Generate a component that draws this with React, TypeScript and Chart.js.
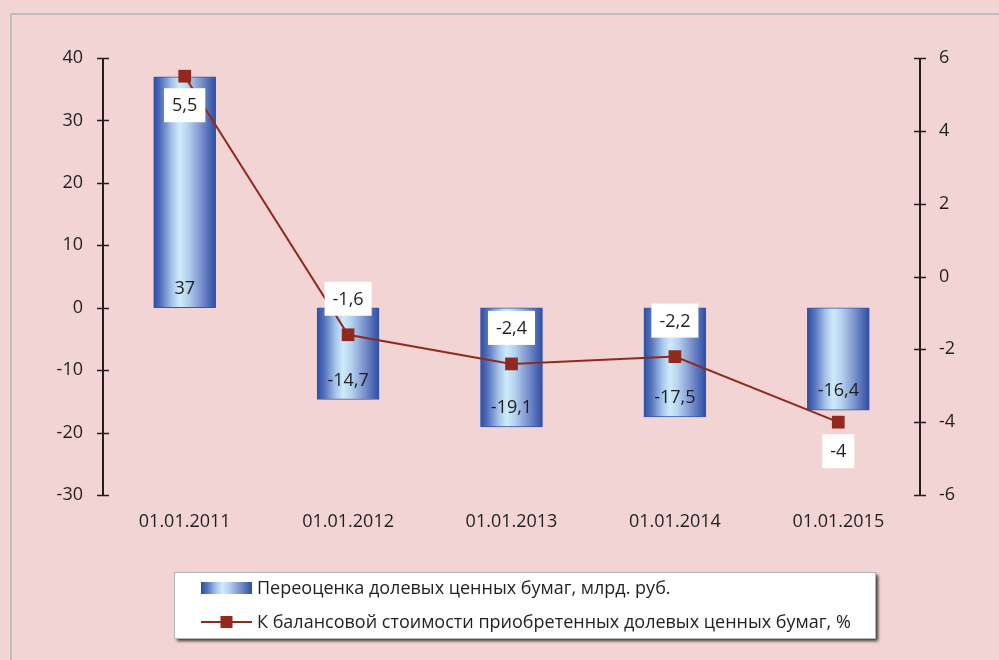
import React, { useEffect, useRef } from 'react';
import { Chart, registerables } from 'chart.js';

Chart.register(...registerables);

const categories = ['01.01.2011', '01.01.2012', '01.01.2013', '01.01.2014', '01.01.2015'];
const revaluation = [37, -14.7, -19.1, -17.5, -16.4];
const sharePct = [5.5, -1.6, -2.4, -2.2, -4];
const pctLabelSide = ['below', 'above', 'above', 'above', 'below'];
const leftAxis = { min: -30, max: 40, step: 10 };
const rightAxis = { min: -6, max: 6, step: 2 };
const seriesNames = [
  'Переоценка долевых ценных бумаг, млрд. руб.',
  'К балансовой стоимости приобретенных долевых ценных бумаг, %',
];

const FONT = '"Open Sans", "Noto Sans", sans-serif';
const TEXT = '#1F1F1F';
const BG = '#F2D4D4';
const LINE = '#8F2A1C';
const BAR_W = 62;

const fmt = (v: number) => String(v).replace('.', ',');

function makeGradient(ctx: CanvasRenderingContext2D, cx: number, half: number) {
  const g = ctx.createLinearGradient(cx - half, 0, cx + half, 0);
  g.addColorStop(0, '#2C4CA3');
  g.addColorStop(0.12, '#5574BE');
  g.addColorStop(0.3, '#A9C6EA');
  g.addColorStop(0.42, '#CDEBFA');
  g.addColorStop(0.55, '#B6D3F0');
  g.addColorStop(0.75, '#7F96CF');
  g.addColorStop(1, '#2D4DA5');
  return g;
}

const decorPlugin = {
  id: 'decor',
  beforeDraw(chart: any) {
    const { ctx, width, height } = chart;
    ctx.save();
    ctx.fillStyle = BG;
    ctx.fillRect(0, 0, width, height);
    ctx.strokeStyle = '#BDBDBD';
    ctx.lineWidth = 2;
    ctx.strokeRect(11, 14, width + 20, height + 20);
    ctx.restore();
  },
  afterDatasetsDraw(chart: any) {
    const { ctx, chartArea } = chart;
    ctx.save();
    ctx.strokeStyle = '#231F20';
    const drawAxis = (scale: any, x: number) => {
      ctx.lineWidth = 2;
      ctx.beginPath();
      ctx.moveTo(x, chartArea.top);
      ctx.lineTo(x, chartArea.bottom);
      ctx.stroke();
      scale.ticks.forEach((t: any) => {
        const y = Math.round(scale.getPixelForValue(t.value)) + 0.5;
        ctx.lineWidth = 1.5;
        ctx.beginPath();
        ctx.moveTo(x - 6, y);
        ctx.lineTo(x + 6, y);
        ctx.stroke();
      });
    };
    drawAxis(chart.scales.y, chartArea.left);
    drawAxis(chart.scales.y1, chartArea.right);

    ctx.font = `18px ${FONT}`;
    ctx.fillStyle = TEXT;
    ctx.textAlign = 'center';
    ctx.textBaseline = 'middle';
    const barMeta = chart.getDatasetMeta(0);
    barMeta.data.forEach((el: any, i: number) => {
      const yEnd = Math.max(el.y, el.base) - 19;
      ctx.fillText(fmt(revaluation[i]), el.x, yEnd);
    });
    ctx.restore();
  },
  afterDraw(chart: any) {
    const { ctx } = chart;
    ctx.save();
    ctx.font = `18px ${FONT}`;
    ctx.textAlign = 'center';
    ctx.textBaseline = 'middle';
    const lineMeta = chart.getDatasetMeta(1);
    lineMeta.data.forEach((el: any, i: number) => {
      const txt = fmt(sharePct[i]);
      const w = ctx.measureText(txt).width + 16;
      const h = 34;
      const cy = pctLabelSide[i] === 'below' ? el.y + 29 : el.y - 36;
      ctx.fillStyle = '#FFFFFF';
      ctx.fillRect(el.x - w / 2, cy - h / 2, w, h);
      ctx.fillStyle = TEXT;
      ctx.fillText(txt, el.x, cy + 1);
    });

    const lx = 174, ly = 572, lw = 701, lh = 66;
    ctx.save();
    ctx.shadowColor = 'rgba(0,0,0,0.75)';
    ctx.shadowBlur = 3;
    ctx.shadowOffsetX = 3;
    ctx.shadowOffsetY = 3;
    ctx.fillStyle = '#FFFFFF';
    ctx.fillRect(lx, ly, lw, lh);
    ctx.restore();
    ctx.strokeStyle = '#B5B5B5';
    ctx.lineWidth = 1;
    ctx.strokeRect(lx + 0.5, ly + 0.5, lw, lh);

    const sx = 201, sw = 51;
    ctx.fillStyle = makeGradient(ctx, sx + sw / 2, sw / 2);
    ctx.fillRect(sx, 582, sw, 12);

    ctx.strokeStyle = LINE;
    ctx.lineWidth = 2;
    ctx.beginPath();
    ctx.moveTo(sx, 622);
    ctx.lineTo(sx + sw, 622);
    ctx.stroke();
    ctx.fillStyle = '#93291E';
    ctx.fillRect(sx + sw / 2 - 6, 616, 12, 12);

    ctx.fillStyle = TEXT;
    ctx.textAlign = 'left';
    ctx.textBaseline = 'middle';
    ctx.font = `18px ${FONT}`;
    ctx.fillText(seriesNames[0], 257, 589, 440);
    ctx.fillText(seriesNames[1], 257, 623, 600);
    ctx.restore();
  },
};

export default function App() {
  const ref = useRef<HTMLCanvasElement>(null);
  useEffect(() => {
    document.body.style.margin = '0';
    const canvas = ref.current!;
    const tickFont = { family: FONT, size: 18 };
    const chart = new Chart(canvas, {
      type: 'bar',
      data: {
        labels: categories,
        datasets: [
          {
            type: 'bar',
            label: seriesNames[0],
            data: revaluation,
            yAxisID: 'y',
            order: 2,
            barThickness: BAR_W,
            borderWidth: 1,
            borderColor: '#3656AC',
            borderSkipped: false,
            backgroundColor: (c: any) => {
              const xs = c.chart.scales?.x;
              if (!xs || c.dataIndex === undefined) return '#5574BE';
              const cx = xs.getPixelForValue(c.dataIndex);
              if (!Number.isFinite(cx)) return '#5574BE';
              return makeGradient(c.chart.ctx, cx, BAR_W / 2);
            },
          } as any,
          {
            type: 'line',
            label: seriesNames[1],
            data: sharePct,
            yAxisID: 'y1',
            order: 1,
            borderColor: LINE,
            borderWidth: 2,
            pointStyle: 'rect',
            pointRadius: 9,
            pointHoverRadius: 9,
            pointBackgroundColor: '#93291E',
            pointBorderWidth: 0,
            tension: 0,
          } as any,
        ],
      },
      options: {
        responsive: false,
        animation: false,
        devicePixelRatio: 1,
        layout: { padding: { top: 58, left: 0, right: 0, bottom: 0 } },
        plugins: { legend: { display: false }, tooltip: { enabled: false } },
        scales: {
          x: {
            type: 'category',
            offset: true,
            grid: { display: false, drawTicks: false, tickLength: 0 },
            border: { display: false },
            ticks: { font: tickFont, color: TEXT, padding: 16, maxRotation: 0 },
            afterFit: (s: any) => { s.height = 165; },
          },
          y: {
            position: 'left',
            min: leftAxis.min,
            max: leftAxis.max,
            grid: { display: false, drawTicks: false, tickLength: 0 },
            border: { display: false },
            ticks: { stepSize: leftAxis.step, font: tickFont, color: TEXT, padding: 20 },
            afterFit: (s: any) => { s.width = 103; },
          },
          y1: {
            position: 'right',
            min: rightAxis.min,
            max: rightAxis.max,
            grid: { display: false, drawTicks: false, tickLength: 0 },
            border: { display: false },
            ticks: { stepSize: rightAxis.step, font: tickFont, color: TEXT, padding: 19 },
            afterFit: (s: any) => { s.width = 79; },
          },
        },
      } as any,
      plugins: [decorPlugin],
    });
    return () => chart.destroy();
  }, []);
  return (
    <div style={{ position: 'absolute', left: 0, top: 0, width: 999, height: 660, background: BG }}>
      <canvas ref={ref} width={999} height={660} style={{ display: 'block' }} />
    </div>
  );
}
